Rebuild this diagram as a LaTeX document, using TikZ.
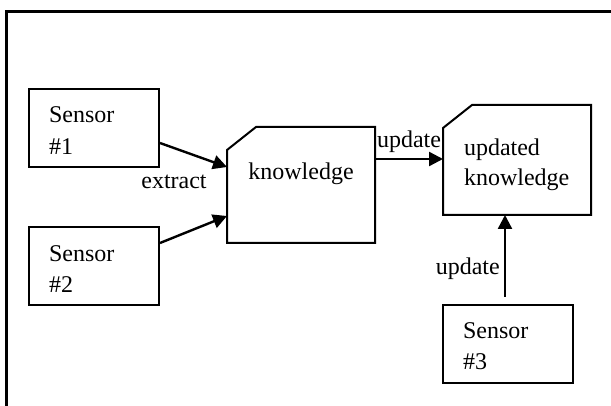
\documentclass[tikz,border=0pt]{standalone}
\usepackage{fontspec}
\setmainfont{Liberation Serif}
\usetikzlibrary{arrows.meta}

\begin{document}
\begin{tikzpicture}[
  x=0.5pt, y=-0.5pt,
  sensor/.style={draw, line width=1pt, text width=45pt, inner xsep=10pt, inner ysep=0pt,
    minimum height=39pt, text height=10.4pt, align=left, font=\fontsize{12}{15.7}\selectfont},
  doc/.style={outer sep=0pt, inner ysep=0pt, minimum width=74pt, minimum height=#1,
    font=\fontsize{12}{15}\selectfont},
  doc/.default=58pt,
  arr/.style={-{Triangle[length=7pt, width=7pt]}, line width=1.2pt},
  lbl/.style={font=\fontsize{12}{14}\selectfont, inner sep=2pt},
]
  \useasboundingbox (0,0) rectangle (611,406);
  % outer frame, runs off the page on the right and bottom
  \draw[line width=1.5pt] (6,420) |- (620,12);

  \node[sensor] (s1) at (94,128) {Sensor\\\#1};
  \node[sensor] (s2) at (94,266.5) {Sensor\\\#2};
  \node[sensor] (s3) at (508,344) {Sensor\\\#3};

  \node[doc, align=center, text height=8.5pt, text depth=13.5pt] (know) at (301,185) {knowledge};
  \node[doc=55pt, align=left, text width=53pt, inner xsep=10.5pt, text height=13.2pt] (upd) at (517,160)
    {updated\\knowledge};

  % cut corner outlines
  \foreach \n in {know, upd}
    \draw[line width=1pt] ([shift={(29,0)}]\n.north west) -- (\n.north east) -- (\n.south east)
      -- (\n.south west) -- ([shift={(0,23)}]\n.north west) -- cycle;

  \draw[arr] ([shift={(0,15)}]s1.east) -- ([shift={(0,-18)}]know.west);
  \draw[arr] ([shift={(0,-23.5)}]s2.east) -- ([shift={(0,31)}]know.west);
  \node[lbl] (ext) at (174,182) {extract};

  \draw[arr] ([shift={(0,-26)}]know.east) -- node[lbl, above, inner sep=2.4pt] (upd1) {update}
    ([shift={(0,-1)}]upd.west);
  \draw[arr] ([shift={(-3,-7)}]s3.north) -- node[lbl, left, pos=0.35] (upd2) {update}
    ([shift={(-12,0)}]upd.south);
\end{tikzpicture}
\end{document}
